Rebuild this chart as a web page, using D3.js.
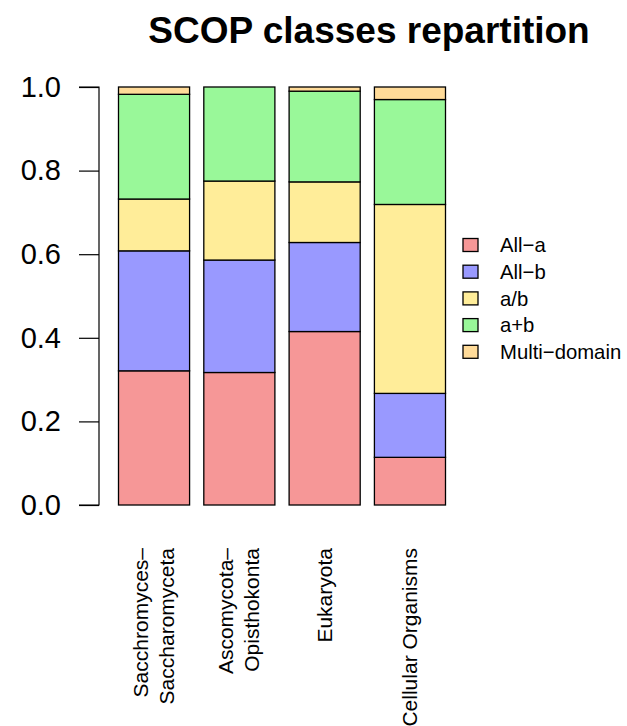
<!DOCTYPE html>
<html>
<head>
<meta charset="utf-8">
<script src="https://cdn.jsdelivr.net/npm/d3@7"></script>
<style>
  html, body { margin: 0; padding: 0; background: #fff; }
  svg { display: block; font-family: "Liberation Sans", Arial, Helvetica, sans-serif; }
</style>
</head>
<body>
<svg id="chart" width="627" height="726"></svg>
<script>
// Taxonomic groups (one stacked bar each); "\n" splits a label over two lines
const categories = ["Sacchromyces\u2013\nSaccharomyceta", "Ascomycota\u2013\nOpisthokonta", "Eukaryota", "Cellular Organisms"];

// Fraction of domains in each SCOP class, per group
const allA        = [0.321, 0.317, 0.415, 0.114];
const allB        = [0.287, 0.269, 0.213, 0.153];
const aOverB      = [0.124, 0.189, 0.145, 0.452];
const aPlusB      = [0.2505, 0.225, 0.217, 0.251];
const multiDomain = [0.0175, 0.000, 0.010, 0.030];

const seriesNames = ["All\u2212a", "All\u2212b", "a/b", "a+b", "Multi\u2212domain"];
const seriesColors = ["#F69797", "#9999FF", "#FFED99", "#99F899", "#FFDB99"];
const yTicks = [0, 0.2, 0.4, 0.6, 0.8, 1.0];

const seriesValues = [allA, allB, aOverB, aPlusB, multiDomain];
const rows = categories.map((c, i) => {
  const r = { category: c };
  seriesNames.forEach((s, k) => { r[s] = seriesValues[k][i]; });
  return r;
});

const svg = d3.select("#chart");

const x = d3.scaleBand()
  .domain(categories)
  .range([118.5, 445.5])
  .paddingInner(0.2 / 1.2)
  .paddingOuter(0);

const y = d3.scaleLinear().domain([0, 1]).range([505, 87]);

const stacked = d3.stack().keys(seriesNames)(rows);

// Stacked bars
const layers = svg.append("g")
  .selectAll("g")
  .data(stacked)
  .join("g")
  .attr("fill", (d, i) => seriesColors[i]);

layers.selectAll("rect")
  .data(d => d)
  .join("rect")
  .attr("x", d => x(d.data.category))
  .attr("width", x.bandwidth())
  .attr("y", d => y(d[1]))
  .attr("height", d => y(d[0]) - y(d[1]))
  .attr("stroke", "#000")
  .attr("stroke-width", 1.3);

// Y axis
const yAxis = svg.append("g")
  .attr("transform", "translate(99,0)")
  .call(d3.axisLeft(y).tickValues(yTicks).tickFormat(d3.format(".1f")).tickSize(20).tickPadding(18));
yAxis.select(".domain").attr("stroke", "#000").attr("stroke-width", 1.2)
  .attr("d", `M-20,${y(1)}H0V${y(0)}H-20`);
yAxis.selectAll(".tick line").attr("stroke", "#000").attr("stroke-width", 1.2);
yAxis.selectAll(".tick text")
  .attr("fill", "#000")
  .style("font-size", "29px")
  .style("font-family", "'Liberation Sans', Arial, sans-serif");

// Category labels, rotated to read upward
const xLabels = svg.append("g")
  .selectAll("text")
  .data(categories)
  .join("text")
  .attr("transform", d => `translate(${x(d) + x.bandwidth() / 2},548) rotate(-90)`)
  .attr("text-anchor", "end")
  .style("font-size", "21px")
  .attr("fill", "#000");

xLabels.each(function (d) {
  const lines = d.split("\n");
  const sel = d3.select(this);
  const lh = 26;
  lines.forEach((line, i) => {
    const off = (i - (lines.length - 1) / 2) * lh + 7;
    sel.append("tspan").attr("x", 0).attr("y", off).text(line);
  });
});

// Title
svg.append("text")
  .attr("x", 369)
  .attr("y", 43)
  .attr("text-anchor", "middle")
  .style("font-size", "37px")
  .style("font-weight", "bold")
  .attr("fill", "#000")
  .text("SCOP classes repartition");

// Legend
const legend = svg.append("g")
  .selectAll("g")
  .data(seriesNames)
  .join("g")
  .attr("transform", (d, i) => `translate(0,${245 + i * 26.7})`);

legend.append("rect")
  .attr("x", 463)
  .attr("y", -6.5)
  .attr("width", 15)
  .attr("height", 13)
  .attr("fill", (d, i) => seriesColors[i])
  .attr("stroke", "#000")
  .attr("stroke-width", 1.3);

legend.append("text")
  .attr("x", 500)
  .attr("y", 0)
  .attr("dy", "0.35em")
  .style("font-size", "20.3px")
  .attr("fill", "#000")
  .text(d => d);
</script>
</body>
</html>
